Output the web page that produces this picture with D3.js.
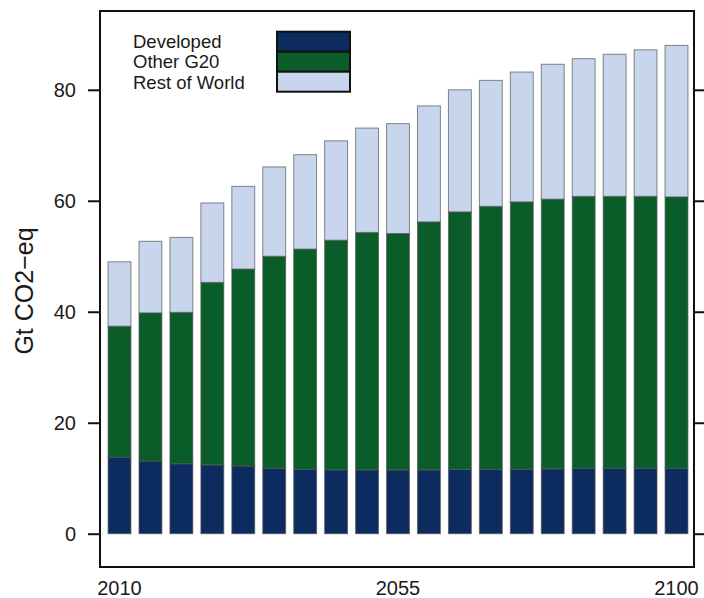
<!DOCTYPE html>
<html>
<head>
<meta charset="utf-8">
<script src="https://cdn.jsdelivr.net/npm/d3@7"></script>
<style>
  html, body { margin: 0; padding: 0; background: #fff; }
  text { font-family: "Liberation Sans", Arial, Helvetica, sans-serif; fill: #1a1a1a; }
</style>
</head>
<body>
<svg id="chart" width="704" height="598"></svg>
<script>
// Emissions by region, Gt CO2-eq, 2010–2100 in five-year steps
const years = [2010, 2015, 2020, 2025, 2030, 2035, 2040, 2045, 2050, 2055,
               2060, 2065, 2070, 2075, 2080, 2085, 2090, 2095, 2100];
const developed = [13.8, 13.1, 12.6, 12.4, 12.2, 11.8, 11.6, 11.5, 11.5, 11.5,
                   11.5, 11.6, 11.6, 11.6, 11.7, 11.8, 11.8, 11.8, 11.8];
const otherG20 = [23.6, 26.7, 27.3, 32.9, 35.5, 38.2, 39.7, 41.4, 42.8, 42.6,
                  44.7, 46.4, 47.4, 48.2, 48.6, 49.0, 49.0, 49.0, 48.9];
const restOfWorld = [11.6, 12.9, 13.5, 14.3, 14.9, 16.1, 17.0, 17.9, 18.8, 19.8,
                     20.9, 22.0, 22.7, 23.4, 24.3, 24.8, 25.6, 26.4, 27.3];
const seriesNames = ["Developed", "Other G20", "Rest of World"];
const seriesColors = ["#0c2b5e", "#0a5c28", "#c7d5ed"];
const yTicks = [0, 20, 40, 60, 80];
const xTickLabels = [2010, 2055, 2100];

const svg = d3.select("#chart");
const frame = { left: 100, right: 694, top: 11, bottom: 567 };

const x = d3.scaleLinear().domain([2010, 2100]).range([119.5, 676.5]);
const y = d3.scaleLinear().domain([-6, 94.2]).range([frame.bottom, frame.top]);
const barW = (x(2015) - x(2010)) * 0.74;

const rows = years.map((yr, i) => ({
  year: yr, Developed: developed[i], "Other G20": otherG20[i], "Rest of World": restOfWorld[i]
}));
const stacked = d3.stack().keys(seriesNames)(rows);

// stacked bars
svg.append("g").selectAll("g")
  .data(stacked)
  .join("g")
  .attr("fill", (d, i) => seriesColors[i])
  .selectAll("rect")
  .data(d => d)
  .join("rect")
  .attr("x", d => x(d.data.year) - barW / 2)
  .attr("width", barW)
  .attr("y", d => y(d[1]))
  .attr("height", d => y(d[0]) - y(d[1]))
  .attr("stroke", "#555")
  .attr("stroke-opacity", 0.7)
  .attr("stroke-width", 1);

// plot frame
svg.append("rect")
  .attr("x", frame.left).attr("y", frame.top)
  .attr("width", frame.right - frame.left).attr("height", frame.bottom - frame.top)
  .attr("fill", "none").attr("stroke", "#111").attr("stroke-width", 2);

// left axis with labels
const leftAxis = svg.append("g")
  .attr("transform", `translate(${frame.left},0)`)
  .call(d3.axisLeft(y).tickValues(yTicks).tickSize(12).tickPadding(12));
leftAxis.select(".domain").remove();
leftAxis.selectAll(".tick line").attr("stroke", "#111").attr("stroke-width", 2);
leftAxis.selectAll(".tick text").attr("font-size", 20).attr("fill", "#1a1a1a")
  .attr("font-family", "Liberation Sans, Arial, sans-serif");

// right axis, ticks only
const rightAxis = svg.append("g")
  .attr("transform", `translate(${frame.right},0)`)
  .call(d3.axisRight(y).tickValues(yTicks).tickSize(12).tickFormat(""));
rightAxis.select(".domain").remove();
rightAxis.selectAll(".tick line").attr("stroke", "#111").attr("stroke-width", 2);

// year labels under the frame
svg.append("g").selectAll("text")
  .data(xTickLabels)
  .join("text")
  .attr("x", d => x(d))
  .attr("y", 595)
  .attr("text-anchor", "middle")
  .attr("font-size", 20)
  .text(d => d);

// y-axis title
svg.append("text")
  .attr("transform", `translate(33,${(frame.top + frame.bottom) / 2 + 2}) rotate(-90)`)
  .attr("text-anchor", "middle")
  .attr("font-size", 25)
  .text("Gt CO2\u2212eq");

// legend
const legend = svg.append("g");
const lgTop = 31.7, lgRow = 20;
legend.selectAll("text")
  .data(seriesNames)
  .join("text")
  .attr("x", 133)
  .attr("y", (d, i) => 47.5 + i * 20.5)
  .attr("font-size", 18.5)
  .text(d => d);
legend.selectAll("rect")
  .data(seriesNames)
  .join("rect")
  .attr("x", 277)
  .attr("y", (d, i) => lgTop + i * lgRow)
  .attr("width", 73)
  .attr("height", lgRow)
  .attr("fill", (d, i) => seriesColors[i])
  .attr("stroke", "#111")
  .attr("stroke-width", 2);
</script>
</body>
</html>
